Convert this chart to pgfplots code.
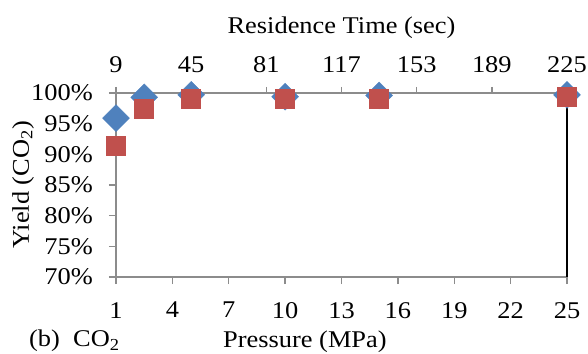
\documentclass[border=0pt]{standalone}
\usepackage{fontspec}
\setmainfont{Liberation Serif}[FakeStretch=1.1]
\usepackage{pgfplots}
\pgfplotsset{compat=1.18}
\definecolor{cblue}{RGB}{79,129,189}
\definecolor{cred}{RGB}{192,80,77}
\definecolor{caxis}{RGB}{140,140,140}
\newcommand{\bigf}{\fontsize{24bp}{28bp}\selectfont}
\begin{document}
\bigf
\begin{tikzpicture}
\path[use as bounding box] (-116bp,-77bp) rectangle (472bp,277bp);
% top axis: residence time
\begin{axis}[at={(0,0)}, anchor=south west, scale only axis,
  width=451bp, height=184bp,
  xmin=9, xmax=225, ymin=70, ymax=100,
  axis x line*=top, hide y axis,
  xtick={9,45,81,117,153,189,225},
  xticklabels={9,45,81,117,153,189,225},
  tick align=outside, major tick length=6bp,
  axis line style={caxis, line width=1.5bp},
  tick style={caxis, line width=1.5bp},
  xticklabel style={font=\bigf, yshift=6bp},
  xlabel={Residence Time (sec)},
  xlabel style={font=\bigf, at={(axis description cs:0.5,1.3533)}, anchor=center},
]
\addplot[draw=none, forget plot] coordinates {(9,80)};
\end{axis}
% main axis: pressure
\begin{axis}[at={(0,0)}, anchor=south west, scale only axis,
  width=451bp, height=184bp,
  xmin=1, xmax=25, ymin=70, ymax=100, clip=false,
  xtick={1,4,7,10,13,16,19,22,25},
  xticklabels={1,4,7,10,13,16,19,22,25},
  ytick={70,75,80,85,90,95,100},
  yticklabels={70\%,75\%,80\%,85\%,90\%,95\%,100\%},
  xtick pos=left, ytick pos=left,
  tick align=outside, major tick length=7bp,
  axis line style={caxis, line width=1.5bp},
  tick style={caxis, line width=1.5bp},
  ticklabel style={font=\bigf},
  xticklabel style={yshift=-10bp},
  yticklabel style={xshift=-8bp},
  xlabel={Pressure (MPa)},
  xlabel style={font=\bigf, at={(axis description cs:0.419,-0.3533)}, anchor=center},
  ylabel={Yield (CO\textsubscript{2})},
  ylabel style={font=\bigf, at={(axis description cs:-0.2062,0.5)}, anchor=center},
]
\draw[black, line width=1.5bp] (rel axis cs:1,0) -- (rel axis cs:1,1);
\addplot[only marks, mark=square*, mark size=9.5bp,
  mark options={rotate=45, fill=cblue, draw=cblue}]
  coordinates {(1,95.9) (2.5,99.3) (5,99.7) (10,99.4) (15,99.6) (25,99.7)};
\addplot[only marks, mark=square*, mark size=9.5bp,
  mark options={fill=cred, draw=cred}]
  coordinates {(1,91.4) (2.5,97.5) (5,99.0) (10,99.0) (15,99.0) (25,99.4)};
\end{axis}
\node[anchor=west] at (-95bp,-64bp) {(b)\ \ CO\textsubscript{2}};
\end{tikzpicture}
\end{document}
